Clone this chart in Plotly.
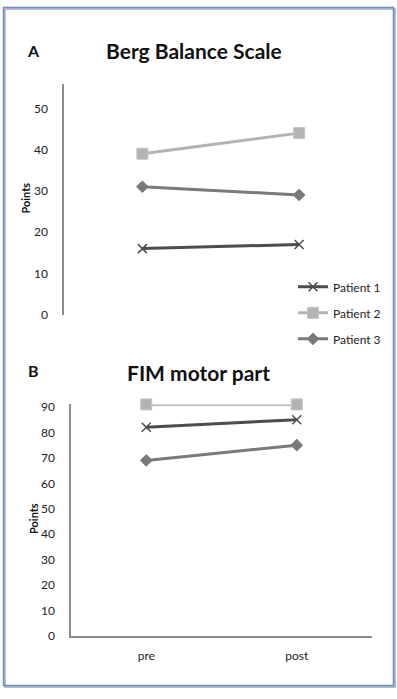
import plotly.graph_objects as go

categories = ["pre", "post"]
berg_p1 = [16, 17]
berg_p2 = [39, 44]
berg_p3 = [31, 29]
fim_p1 = [82, 85]
fim_p2 = [91, 91]
fim_p3 = [69, 75]
patients = ["Patient 1", "Patient 2", "Patient 3"]
berg_ticks = [0, 10, 20, 30, 40, 50]
fim_ticks = [0, 10, 20, 30, 40, 50, 60, 70, 80, 90]

W, H = 397, 699
FONT = "Lato"

styles = [
    dict(color="#4d4d4d", symbol="x-thin", size=9, mline=dict(color="#4d4d4d", width=1.5)),
    dict(color="#b3b3b3", symbol="square", size=11, mline=dict(color="#c4c4c4", width=1)),
    dict(color="#7a7a7a", symbol="diamond", size=9, mline=dict(color="#7a7a7a", width=1)),
]

fig = go.Figure()
for i, (vals, name) in enumerate(zip([berg_p1, berg_p2, berg_p3], patients)):
    s = styles[i]
    fig.add_trace(go.Scatter(
        x=categories, y=vals, name=name, mode="lines+markers",
        line=dict(color=s["color"], width=3),
        marker=dict(symbol=s["symbol"], size=s["size"], color=s["color"], line=s["mline"]),
        xaxis="x", yaxis="y", legendgroup=name, cliponaxis=False,
    ))
for i, (vals, name) in enumerate(zip([fim_p1, fim_p2, fim_p3], patients)):
    s = styles[i]
    fig.add_trace(go.Scatter(
        x=categories, y=vals, name=name, mode="lines+markers",
        line=dict(color=s["color"], width=3),
        marker=dict(symbol=s["symbol"], size=s["size"], color=s["color"], line=s["mline"]),
        xaxis="x2", yaxis="y2", showlegend=False, cliponaxis=False,
    ))

def px(x):
    return x / W

def py(y):
    return 1 - y / H

axis_line = dict(showline=True, linecolor="#8c8c8c", linewidth=1.5)
tickfont = dict(size=12, family=FONT, color="#222")

fig.update_layout(
    width=W, height=H,
    margin=dict(l=0, r=0, t=0, b=0),
    paper_bgcolor="white", plot_bgcolor="white",
    font=dict(family=FONT, color="#222222", size=12),
    xaxis=dict(domain=[px(64), px(377.5)], range=[-0.5, 1.5], type="category",
               showline=False, showgrid=False, zeroline=False, showticklabels=False,
               anchor="y"),
    yaxis=dict(domain=[py(315), py(80)], range=[0, 56], tickvals=berg_ticks,
               showgrid=False, zeroline=False, ticks="", ticklabelstandoff=12,
               tickfont=tickfont, anchor="x", **axis_line),
    xaxis2=dict(domain=[px(71), px(372)], range=[-0.5, 1.5], type="category",
                showgrid=False, zeroline=False, ticks="", ticklabelstandoff=8,
                tickfont=tickfont, anchor="y2", **axis_line),
    yaxis2=dict(domain=[py(642), py(406.4)], range=[0, 91], tickvals=fim_ticks,
                showgrid=False, zeroline=False, ticks="", ticklabelstandoff=12,
                tickfont=tickfont, anchor="x2", **axis_line),
    legend=dict(x=px(293), y=py(272), xanchor="left", yanchor="top",
                font=dict(size=12, family=FONT, color="#222"),
                tracegroupgap=7, bgcolor="rgba(0,0,0,0)", itemwidth=30),
    showlegend=True,
)

annotations = [
    dict(text="<b>A</b>", x=px(33), y=py(46), size=16),
    dict(text="<b>Berg Balance Scale</b>", x=px(194), y=py(46), size=21),
    dict(text="<b>Points</b>", x=px(26), y=py(197), size=11, angle=-90),
    dict(text="<b>B</b>", x=px(33), y=py(372), size=16),
    dict(text="<b>FIM motor part</b>", x=px(198), y=py(374), size=21),
    dict(text="<b>Points</b>", x=px(33), y=py(523), size=11, angle=-90),
]
for a in annotations:
    fig.add_annotation(
        text=a["text"], x=a["x"], y=a["y"], xref="paper", yref="paper",
        showarrow=False, xanchor="center", yanchor="middle",
        textangle=a.get("angle", 0),
        font=dict(size=a.get("size", 14), family=FONT, color="#111"),
    )

# outer frame
fig.add_shape(type="rect", xref="paper", yref="paper",
              x0=px(5), y0=py(694), x1=px(395), y1=py(4),
              line=dict(color="#bdbdbd", width=2), fillcolor="rgba(0,0,0,0)")
fig.add_shape(type="rect", xref="paper", yref="paper",
              x0=px(3.5), y0=py(692.5), x1=px(393.5), y1=py(2.5),
              line=dict(color="#5b8fd9", width=1.5), fillcolor="rgba(0,0,0,0)")

fig.write_html(
    "out.html",
    config={"displayModeBar": False},
    post_script=("document.documentElement.style.margin='0';"
                 "document.body.style.margin='0';"
                 "document.body.style.padding='0';"
                 "document.body.style.overflow='hidden';"
                 "var d=document.getElementById('{plot_id}');"
                 "d.style.position='fixed';d.style.top='0px';d.style.left='0px';"),
)
